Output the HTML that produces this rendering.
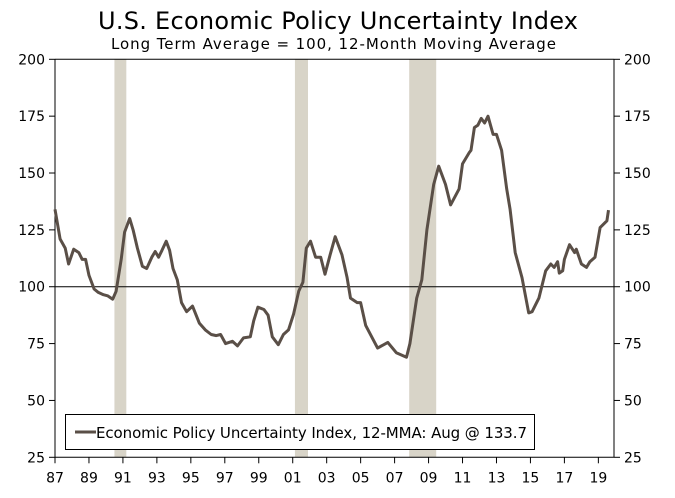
<!DOCTYPE html>
<html><head><meta charset="utf-8"><style>
body{margin:0;background:#fff;width:675px;height:493px;overflow:hidden}
text{font-family:"DejaVu Sans","Liberation Sans",sans-serif;fill:#000}
</style></head><body>
<svg id="chart" width="675" height="493" viewBox="0 0 675 493" xmlns="http://www.w3.org/2000/svg">
<text x="98" y="29" font-size="24" textLength="480" lengthAdjust="spacing">U.S. Economic Policy Uncertainty Index</text>
<text x="111" y="49" font-size="15" textLength="445" lengthAdjust="spacing">Long Term Average = 100, 12-Month Moving Average</text>
<g id="bands"></g><g id="axes"></g><g id="series"></g>
<g>
<rect x="65.5" y="414.5" width="469" height="35" fill="#fff" stroke="#000" stroke-width="1"/>
<line x1="75" y1="432" x2="96" y2="432" stroke="#5a4f47" stroke-width="3"/>
<text x="96" y="438" font-size="15" textLength="431" lengthAdjust="spacing">Economic Policy Uncertainty Index, 12-MMA: Aug @ 133.7</text>
</g>
</svg>
<script>
const years=[1987.0,1987.3,1987.6,1987.8,1988.1,1988.4,1988.6,1988.8,1989.0,1989.3,1989.55,1989.85,1990.1,1990.4,1990.6,1990.9,1991.1,1991.4,1991.6,1991.85,1992.15,1992.4,1992.7,1992.9,1993.1,1993.3,1993.55,1993.75,1993.95,1994.2,1994.45,1994.75,1995.1,1995.5,1995.85,1996.2,1996.5,1996.75,1997.05,1997.45,1997.75,1998.1,1998.5,1998.7,1998.95,1999.3,1999.55,1999.8,2000.15,2000.45,2000.75,2001.05,2001.35,2001.6,2001.8,2002.05,2002.35,2002.65,2002.9,2003.2,2003.5,2003.9,2004.2,2004.4,2004.8,2005.0,2005.3,2006.0,2006.6,2007.1,2007.7,2007.9,2008.3,2008.6,2008.9,2009.3,2009.6,2010.0,2010.3,2010.8,2011.0,2011.4,2011.5,2011.7,2011.9,2012.1,2012.3,2012.5,2012.8,2013.0,2013.3,2013.6,2013.8,2014.1,2014.5,2014.9,2015.1,2015.5,2015.9,2016.2,2016.4,2016.6,2016.7,2016.9,2017.0,2017.3,2017.6,2017.7,2018.0,2018.3,2018.5,2018.8,2019.1,2019.3,2019.5,2019.6];
const values=[134,121,117,110,116.5,115,112,112,105,99,97.5,96.5,96,94.5,98,112,124,130,125,117,109,108,113,115.5,113,116,120,116,108,103,93,89,91.5,84,81,79,78.5,79,75,76,74,77.5,78,85,91,90,87.5,78,74.5,79,81,88,98,102,117,120,113,113,105.5,114,122,114,104,95,93,93,83,73,75.5,71,69,75,95,103,125,145,153,145,136,143,154,159,160,170,171,174,172,175,167,167,160,143,134,115,104,88.5,89,95,107,110,108.5,111,106,107,112,118.5,115,116.5,110,108.5,111,113,126,127.5,129,133.7];
const recessions=[[1990.5,1991.2],[2001.13,2001.9],[2007.86,2009.45]];
const yTicks=[25,50,75,100,125,150,175,200];
const xTickYears=[1987,1989,1991,1993,1995,1997,1999,2001,2003,2005,2007,2009,2011,2013,2015,2017,2019];
const NS="http://www.w3.org/2000/svg";
const X0=55,X1=614,Y0=59.3,Y1=457.3;
const xs=y=>55+(y-1987)*16.98;
const ys=v=>Y1-(v-25)*(Y1-Y0)/175;
function mk(tag,attrs,parent){const e=document.createElementNS(NS,tag);for(const k in attrs)e.setAttribute(k,attrs[k]);parent.appendChild(e);return e;}
const bands=document.getElementById('bands'),axes=document.getElementById('axes'),series=document.getElementById('series');
recessions.forEach(r=>{const e=mk('rect',{x:xs(r[0]),y:Y0,width:xs(r[1])-xs(r[0]),height:Y1-Y0,fill:'#d8d4c8'},bands);

});
let e=mk('line',{x1:X0,y1:Y0,x2:X1,y2:Y0,stroke:'#000','stroke-width':1},axes);

e=mk('line',{x1:X0,y1:Y0,x2:X0,y2:Y1,stroke:'#000','stroke-width':1},axes);

e=mk('line',{x1:X1,y1:Y0,x2:X1,y2:Y1,stroke:'#000','stroke-width':1},axes);

e=mk('line',{x1:X0,y1:Y1,x2:X1,y2:Y1,stroke:'#000','stroke-width':1},axes);

e=mk('line',{x1:X0,y1:ys(100),x2:X1,y2:ys(100),stroke:'#000','stroke-width':1},axes);

yTicks.forEach(v=>{const y=ys(v);
mk('line',{x1:X0-6,y1:y,x2:X0,y2:y,stroke:'#000'},axes);
mk('line',{x1:X1,y1:y,x2:X1+6,y2:y,stroke:'#000'},axes);
let t=mk('text',{x:X0-10,y:y+5,'font-size':14,'text-anchor':'end'},axes);t.textContent=v;

t=mk('text',{x:X1+10,y:y+5,'font-size':14,'text-anchor':'start'},axes);t.textContent=v;
});
xTickYears.forEach(yr=>{const x=xs(yr);
mk('line',{x1:x,y1:Y1,x2:x,y2:Y1+6,stroke:'#000'},axes);
const t=mk('text',{x:x,y:Y1+25,'font-size':14,'text-anchor':'middle'},axes);t.textContent=String(yr%100).padStart(2,'0');
});
const p=mk('path',{d:years.map((y,i)=>(i?'L':'M')+xs(y).toFixed(1)+','+ys(values[i]).toFixed(1)).join(''),fill:'none',stroke:'#5a4f47','stroke-width':3,'stroke-linejoin':'round'},series);


</script>
</body></html>
